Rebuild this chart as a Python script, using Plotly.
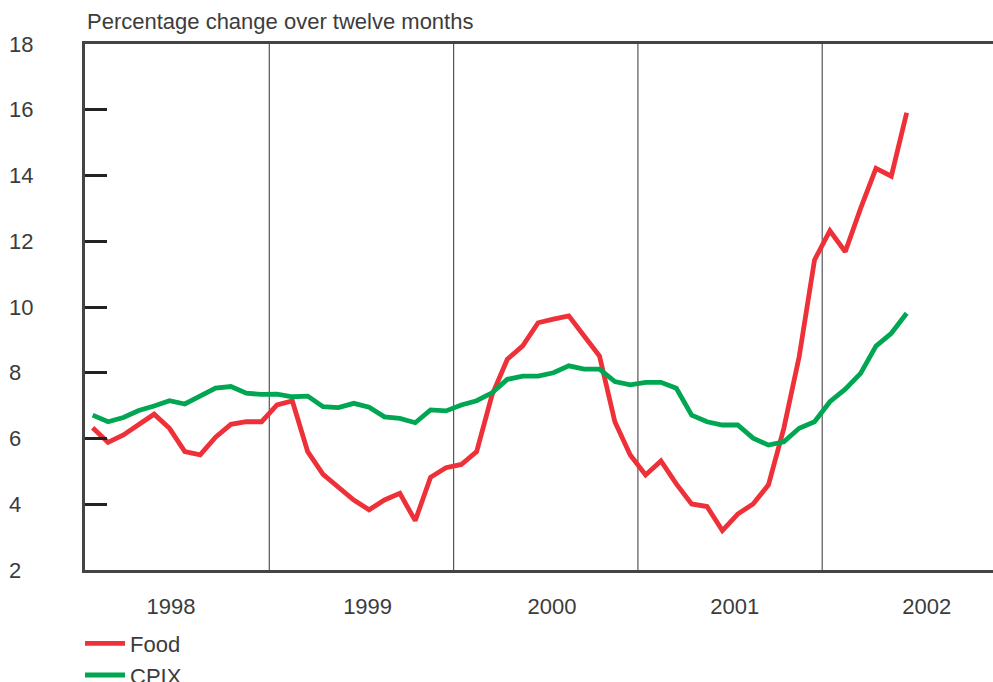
import plotly.graph_objects as go

# Monthly index: 0 = Jan 1998 ... 53 = Jun 2002
months = list(range(54))

food = [6.33, 5.88, 6.11, 6.43, 6.74, 6.31, 5.60, 5.50, 6.04, 6.43, 6.51, 6.51,
        7.02, 7.14, 5.60, 4.91, 4.52, 4.13, 3.83, 4.13, 4.33, 3.50, 4.82, 5.11,
        5.21, 5.60, 7.32, 8.41, 8.82, 9.52, 9.63, 9.73, 9.12, 8.51, 6.51, 5.50,
        4.89, 5.32, 4.62, 4.01, 3.93, 3.20, 3.70, 4.01, 4.59, 6.31, 8.49, 11.43,
        12.32, 11.68, 13.00, 14.22, 13.98, 15.91]

cpix = [6.71, 6.51, 6.64, 6.85, 6.99, 7.15, 7.05, 7.30, 7.53, 7.58, 7.38, 7.34,
        7.35, 7.27, 7.29, 6.97, 6.94, 7.07, 6.95, 6.66, 6.61, 6.48, 6.87, 6.84,
        7.02, 7.15, 7.39, 7.80, 7.90, 7.90, 8.00, 8.21, 8.11, 8.11, 7.73, 7.63,
        7.71, 7.71, 7.53, 6.71, 6.51, 6.41, 6.41, 6.01, 5.80, 5.90, 6.31, 6.51,
        7.12, 7.50, 7.98, 8.81, 9.20, 9.81]

year_labels = ["1998", "1999", "2000", "2001", "2002"]
year_label_pos = [5.1, 17.9, 29.9, 41.8, 54.3]
year_boundaries = [11.5, 23.5, 35.5, 47.5]
y_ticks = [2, 4, 6, 8, 10, 12, 14, 16, 18]

RED = "#EE3138"
GREEN = "#00A651"
TXT = "#3c3c3c"
FONT = "Liberation Sans, Arial, sans-serif"
FS = 22

fig = go.Figure()
fig.add_trace(go.Scatter(x=months, y=food, mode="lines", name="Food",
                         line=dict(color=RED, width=4.8)))
fig.add_trace(go.Scatter(x=months, y=cpix, mode="lines", name="CPIX",
                         line=dict(color=GREEN, width=4.8)))

for b in year_boundaries:
    fig.add_shape(type="line", xref="x", yref="paper", x0=b, x1=b, y0=0, y1=1,
                  line=dict(color="#555555", width=1.2), layer="below")

fig.update_layout(
    width=993, height=682,
    margin=dict(l=85, r=0, t=44, b=112, autoexpand=False),
    paper_bgcolor="white", plot_bgcolor="white",
    font=dict(family=FONT, size=FS, color=TXT),
    showlegend=True,
    legend=dict(x=-0.0055, y=-0.1, xanchor="left", yanchor="top",
                font=dict(size=FS, color=TXT), tracegroupgap=0,
                itemwidth=40, bgcolor="rgba(0,0,0,0)"),
    annotations=[dict(text="Percentage change over twelve months", xref="paper",
                      yref="paper", x=0, y=1, xanchor="left", yanchor="bottom",
                      yshift=8, showarrow=False, font=dict(size=FS, color=TXT))],
)

fig.update_xaxes(range=[-0.5, 58.62], showgrid=False, zeroline=False,
                 showline=True, linecolor="#444444", linewidth=3, mirror=True,
                 tickmode="array", tickvals=year_label_pos, ticktext=year_labels,
                 ticks="", ticklabelstandoff=15, automargin=False,
                 tickfont=dict(size=FS, color=TXT))
fig.update_yaxes(range=[2, 18], showgrid=False, zeroline=False,
                 showline=True, linecolor="#444444", linewidth=3,
                 tickmode="array", tickvals=y_ticks,
                 ticktext=[str(v) + ("\u2007" if v < 10 else "") for v in y_ticks],
                 ticks="inside", ticklen=22, tickwidth=2.5, tickcolor="#222222",
                 ticklabelstandoff=44, automargin=False,
                 tickfont=dict(size=FS, color=TXT))

fig.write_html("out.html", config={"displayModeBar": False},
               post_script="document.body.style.margin='0';")
